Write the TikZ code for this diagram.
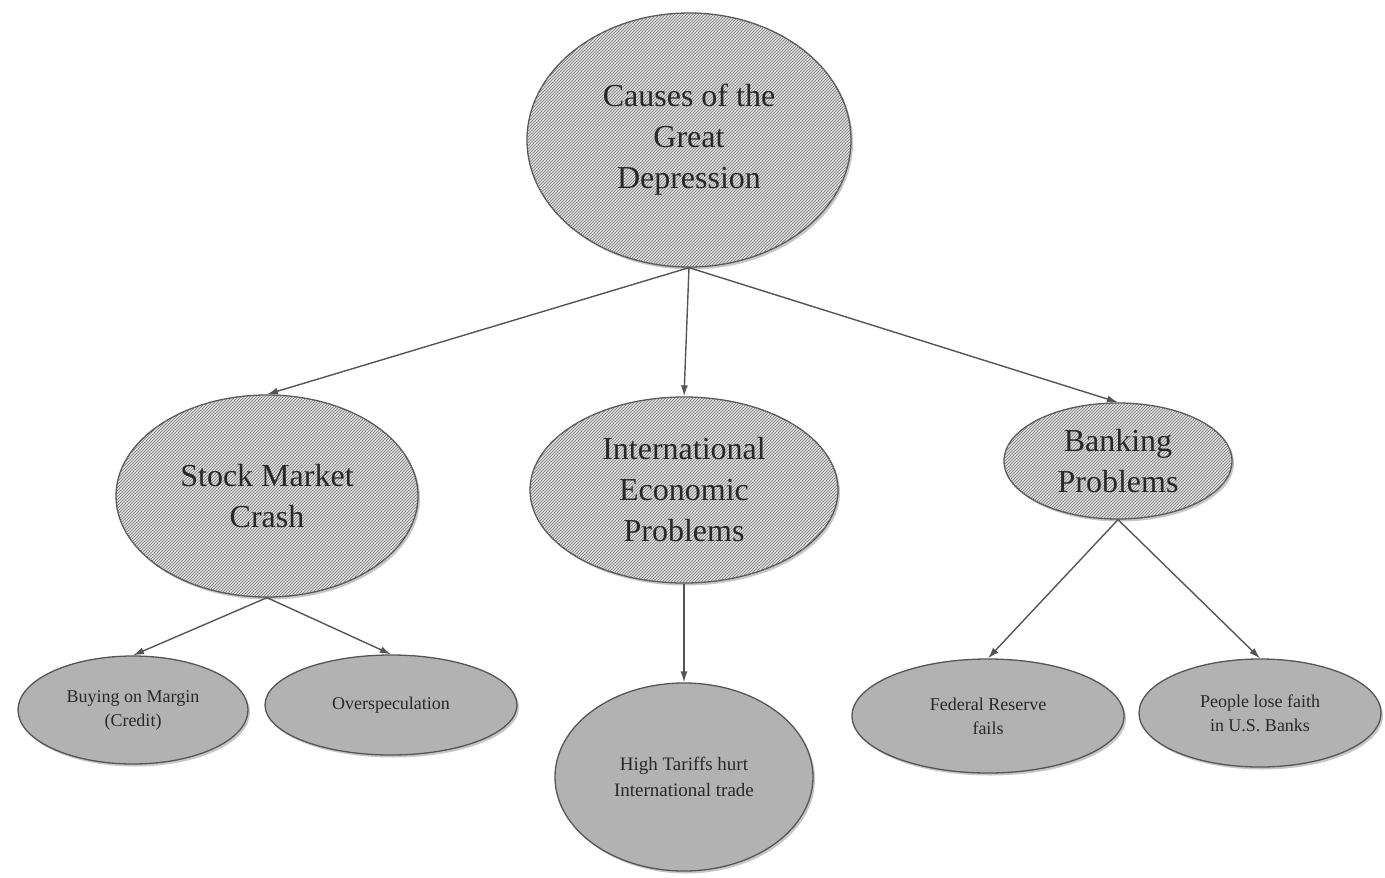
\documentclass[tikz,border=0pt]{standalone}
\usepackage{fontspec}
\setmainfont{Liberation Serif}
\usetikzlibrary{shapes.geometric,arrows.meta,patterns,shadows}
\definecolor{edgegray}{RGB}{85,85,85}
\definecolor{txtgray}{RGB}{40,40,40}
\definecolor{lightfill}{RGB}{222,222,222}
\definecolor{midfill}{RGB}{178,178,178}
\definecolor{hatchgray}{RGB}{120,120,120}
\tikzset{
  bubble/.style={ellipse, draw=edgegray, line width=1.3pt, inner sep=0pt, align=center, text=txtgray,
    drop shadow={shadow xshift=2pt, shadow yshift=-2.5pt, fill=gray!55, opacity=0.8}},
  hatched/.style={bubble, fill=lightfill, postaction={pattern=north east lines, pattern color=hatchgray},
    font=\fontsize{32}{41}\selectfont},
  plain/.style={bubble, fill=midfill, font=\fontsize{18}{24}\selectfont},
  link/.style={draw=edgegray, line width=1.4pt, -{Latex[length=11pt,width=7pt]}}
}
\begin{document}
\begin{tikzpicture}[x=1pt,y=-1pt]
\useasboundingbox (0,0) rectangle (1385,878);
\node[hatched, minimum width=324pt, minimum height=254pt] (root) at (689,140) {Causes of the\\Great\\Depression};
\node[hatched, minimum width=302pt, minimum height=202pt] (stock) at (267,496) {Stock Market\\Crash};
\node[hatched, minimum width=308pt, minimum height=186pt] (intl) at (684,490) {International\\Economic\\Problems};
\node[hatched, minimum width=228pt, minimum height=116pt] (bank) at (1118,461) {Banking\\Problems};
\node[plain, minimum width=230pt, minimum height=108pt] (buy) at (133,710) {Buying on Margin\\(Credit)};
\node[plain, minimum width=252pt, minimum height=100pt] (over) at (391,705) {Overspeculation};
\node[plain, minimum width=258pt, minimum height=188pt, font=\fontsize{19}{26}\selectfont] (tariff) at (684,777) {High Tariffs hurt\\International trade};
\node[plain, minimum width=272pt, minimum height=114pt] (fed) at (988,716) {Federal Reserve\\fails};
\node[plain, minimum width=242pt, minimum height=108pt] (faith) at (1260,713) {People lose faith\\in U.S. Banks};
\draw[link] (root.south) -- (stock.north);
\draw[link] (root.south) -- (intl.north);
\draw[link] (root.south) -- (bank.north);
\draw[link] (stock.south) -- (buy.north);
\draw[link] (stock.south) -- (over.north);
\draw[link] (intl.south) -- (tariff.north);
\draw[link] (bank.south) -- (fed.north);
\draw[link] (bank.south) -- (faith.north);
\end{tikzpicture}
\end{document}
